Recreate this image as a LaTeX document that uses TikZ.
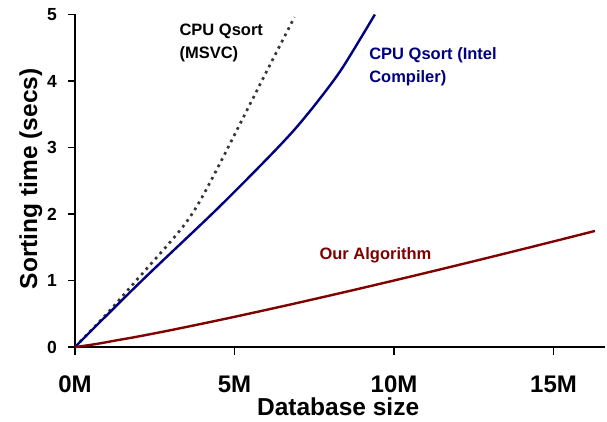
\documentclass[tikz,border=0pt]{standalone}
\usepackage{fontspec}
\setmainfont{Liberation Sans}
\definecolor{intelblau}{RGB}{0,0,128}
\definecolor{algorot}{RGB}{128,0,0}
\definecolor{msvcgrau}{RGB}{55,55,55}
\tikzset{
  achse/.style={line width=1.5pt},
  kurve/.style={line width=2.4pt},
  zahly/.style={font=\fontsize{17.5}{17.5}\selectfont\bfseries, inner sep=0pt, anchor=east},
  zahlx/.style={font=\fontsize{24}{24}\selectfont\bfseries, inner sep=0pt, anchor=base},
  titel/.style={font=\fontsize{24.5}{24.5}\selectfont\bfseries, inner sep=0pt, anchor=base},
  legende/.style={font=\fontsize{16.5}{23}\selectfont\bfseries, inner sep=0pt, anchor=base west, align=left}
}
\begin{document}
\begin{tikzpicture}[x=31.9pt, y=66.5pt]
    \useasboundingbox (-75pt,-74pt) rectangle (532pt,347pt);
    % Achsen
    \draw[achse] (0,5) -- (0,0) -- (16.6,0);
    \foreach \y in {0,...,5}{
        \draw[achse] (0,\y) -- ++(-7pt,0);
        \node[zahly] (y\y) at (-18pt,\y) {\y};
    }
    \foreach \x/\lab in {0/0M,5/5M,10/10M,15/15M}{
        \draw[achse] (\x,0) -- ++(0,-8pt);
        \node[zahlx] (x\x) at (\x,-45pt) {\lab};
    }
    \node[titel] (xtitel) at (8.25,-68.7pt) {Database size};
    \node[titel, rotate=90] (ytitel) at (-38pt,2.53) {Sorting time (secs)};

    % Kurven
    \draw[kurve, msvcgrau, line width=2.7pt, dash pattern=on 2.7pt off 4.3pt] plot[smooth] coordinates
        {(0,0) (1,0.5) (1.92,1) (3.2,1.7) (3.8,2.1) (4.5,2.72) (5.96,4.1) (6.88,4.96)};
    \draw[kurve, intelblau] plot[smooth] coordinates
        {(0,0) (2.1,1) (4.4,2.05) (6,2.82) (6.9,3.28) (7.7,3.75) (8.4,4.21) (9.4,5)};
    \draw[kurve, algorot] (0,0) -- plot[smooth, domain=0.05:16.3, samples=40] (\x,{pow(\x/10,1.14)});

    % Beschriftungen
    \node[legende] (msvc) at (3.27,4.335) {CPU Qsort\\(MSVC)};
    \node[legende, intelblau] (intel) at (9.22,3.97) {CPU Qsort (Intel\\Compiler)};
    \node[legende, algorot] (algo) at (7.66,1.319) {Our Algorithm};
\end{tikzpicture}
\end{document}
